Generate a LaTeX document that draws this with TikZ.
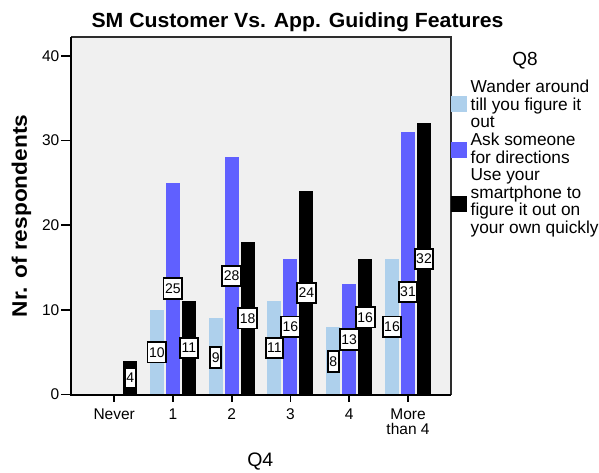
\documentclass[tikz,border=0pt]{standalone}
\usepackage{fontspec}
\setmainfont{Liberation Sans}
\definecolor{wander}{RGB}{174,208,236}
\definecolor{ask}{RGB}{96,96,255}
\definecolor{plotbg}{RGB}{240,240,240}
\definecolor{frameline}{RGB}{45,45,45}
\begin{document}
\begin{tikzpicture}[x=1pt,y=-1pt,
  vallabel/.style={draw=black, line width=1.8pt, fill=white, inner xsep=1.6pt,
    inner ysep=0pt, minimum height=20.5pt, font=\fontsize{14}{14}\selectfont},
  ticklab/.style={font=\fontsize{15.5}{15.5}\selectfont, inner sep=0pt},
  catlab/.style={font=\fontsize{15.5}{14.5}\selectfont, inner sep=0pt, anchor=base},
  legtext/.style={font=\fontsize{17.3}{17.5}\selectfont, inner sep=0pt, anchor=base west},
  axisline/.style={line width=2pt, black},
  tickline/.style={line width=1.6pt, black}]
\useasboundingbox (0,0) rectangle (599,472);

% plot area
\fill[plotbg] (71,37) rectangle (451,394.5);
\draw[frameline, line width=1.5pt] (71,37) -- (451,37) -- (451,394.5);

% bars: category index / wander / ask / smartphone
\foreach \i/\a/\b/\c in {0/0/0/4,1/10/25/11,2/9/28/18,3/11/16/24,4/8/13/16,5/16/31/32}{
  \pgfmathsetmacro\cx{114.2+58.76*\i}
  \foreach \v/\k/\col in {\a/1/wander,\b/2/ask,\c/3/black}{
    \ifnum\v>0
      \fill[\col] ({\cx+16*(\k-2)-7},394.5) rectangle ({\cx+16*(\k-2)+7},{394.5-8.47*\v});
    \fi
  }
}

% axes and ticks
\draw[axisline] (71,37) -- (71,394.5) -- (451,394.5);
\foreach \t in {0,10,20,30,40}{
  \draw[tickline] (61,{394.5-8.47*\t}) -- (71,{394.5-8.47*\t});
  \node[ticklab, anchor=east] (yt\t) at (59.5,{394.5-8.47*\t}) {\t};
}
\foreach \i in {0,...,5}{
  \draw[tickline] ({114.2+58.76*\i},394.5) -- ({114.2+58.76*\i},402);
}

% value labels: category / series / value / vertical position
\foreach \i/\k/\v/\ly in {0/3/4/378, 1/1/10/352.3, 1/2/25/288.6, 1/3/11/347.9,
    2/1/9/357.5, 2/2/28/276, 2/3/18/318.3, 3/1/11/347.9, 3/2/16/326.7, 3/3/24/292.9,
    4/1/8/361.5, 4/2/13/339.4, 4/3/16/317.3, 5/1/16/326.7, 5/2/31/292, 5/3/32/259}{
  \node[vallabel] (lab-\i-\k) at ({114.2+58.76*\i+16*(\k-2)},\ly) {\v};
}

% category labels
\node[catlab] (c0) at (114.2,419.5) {Never};
\node[catlab] (c1) at (172.96,419.5) {1};
\node[catlab] (c2) at (231.72,419.5) {2};
\node[catlab] (c3) at (290.48,419.5) {3};
\node[catlab] (c4) at (349.24,419.5) {4};
\node[catlab] (c5) at (408,419.5) {\parbox[t]{70pt}{\centering More\\than 4}};

% titles
\node[anchor=base, inner sep=0pt, font=\fontsize{20.5}{20.5}\selectfont\bfseries] (title)
  at (297.5,27.3) {\scalebox{1.035}[1]{SM Customer Vs. App. Guiding Features}};
\node[anchor=base, inner sep=0pt, rotate=90, font=\fontsize{21}{21}\selectfont\bfseries] (ylab)
  at (27,216) {\scalebox{1.08}[1]{Nr. of respondents}};
\node[anchor=base, inner sep=0pt, font=\fontsize{19.5}{19.5}\selectfont] (xlab) at (260.3,466) {Q4};

% legend
\node[anchor=base, inner sep=0pt, font=\fontsize{19}{19}\selectfont] (legtitle) at (525,65) {Q8};
\fill[wander] (451,96) rectangle (467,112);
\fill[ask] (451,142) rectangle (467,158);
\fill[black] (451,196) rectangle (467,212);
\node[legtext] (leg1) at (470.5,92.7) {\parbox[t]{150pt}{\raggedright Wander around\\till you figure it\\out}};
\node[legtext] (leg2) at (470.5,145.5) {\parbox[t]{150pt}{\raggedright Ask someone\\for directions}};
\node[legtext] (leg3) at (470.5,180.5) {\parbox[t]{150pt}{\raggedright Use your\\smartphone to\\figure it out on\\your own quickly}};
\end{tikzpicture}
\end{document}
